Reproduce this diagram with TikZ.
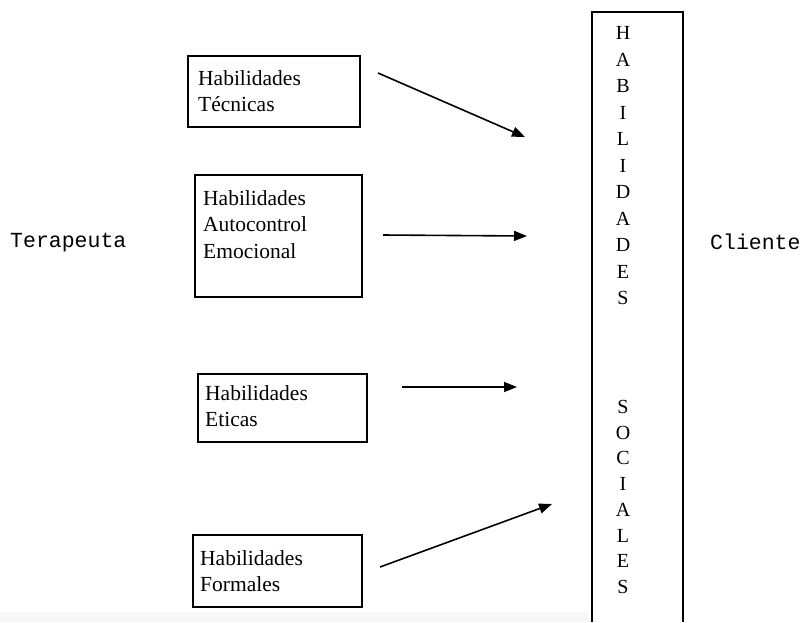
\documentclass[tikz,border=0pt]{standalone}
\usepackage{fontspec}
\setmainfont{Liberation Serif}
\setmonofont{Liberation Mono}
\usetikzlibrary{arrows.meta}
\begin{document}
\begin{tikzpicture}[x=1pt,y=-1pt,
  skillbox/.style={draw=black,line width=2pt,inner sep=0pt},
  skilltext/.style={anchor=north west,align=left,inner sep=0pt,font=\fontsize{21.5}{26.5}\selectfont},
  letter/.style={inner sep=0pt,font=\fontsize{20}{20}\selectfont},
  side/.style={anchor=base west,inner sep=0pt,font=\ttfamily\fontsize{21.5}{21.5}\selectfont},
  arr/.style={line width=1.6pt,-{Triangle[length=13pt,width=10pt]}}]
\useasboundingbox (0,0) rectangle (805,622);
\fill[black!3] (0,612) rectangle (588,622);
% boxes
\draw[skillbox] (188,56) rectangle (360,127);
\draw[skillbox] (195,175) rectangle (362,297);
\draw[skillbox] (198,374) rectangle (367,442);
\draw[skillbox] (193,535) rectangle (362,607);
\node[skilltext] (t1) at (198,70.3) {Habilidades\\Técnicas};
\node[skilltext] (t2) at (203,190.3) {Habilidades\\Autocontrol\\Emocional};
\node[skilltext] (t3) at (205,385.3) {Habilidades\\Eticas};
\node[skilltext] (t4) at (200,550.3) {Habilidades\\Formales};
% side labels
\node[side] (ter) at (10,247) {Terapeuta};
\node[side] (cli) at (710,249) {Cliente};
% big column
\coordinate (bl) at (592,622);
\coordinate (tl) at (592,12);
\coordinate (tr) at (683,12);
\coordinate (br) at (683,622);
\draw[line width=2pt] (bl) -- (tl) -- (tr) -- (br);
\foreach \l [count=\i] in {H,A,B,I,L,I,D,A,D,E,S}
  \node[letter] (h\i) at (623,{33+(\i-1)*26.5}) {\l};
\foreach \l [count=\i] in {S,O,C,I,A,L,E,S}
  \node[letter] (s\i) at (623,{407+(\i-1)*25.7}) {\l};
% arrows
\coordinate (a1s) at (378,73);
\coordinate (a1e) at (525,137);
\coordinate (a2s) at (383,235);
\coordinate (a2e) at (527,236);
\coordinate (a3s) at (402,387);
\coordinate (a3e) at (517,387);
\coordinate (a4s) at (380,567);
\coordinate (a4e) at (552,504);
\draw[arr] (a1s) -- (a1e);
\draw[arr] (a2s) -- (a2e);
\draw[arr] (a3s) -- (a3e);
\draw[arr] (a4s) -- (a4e);
\end{tikzpicture}
\end{document}
